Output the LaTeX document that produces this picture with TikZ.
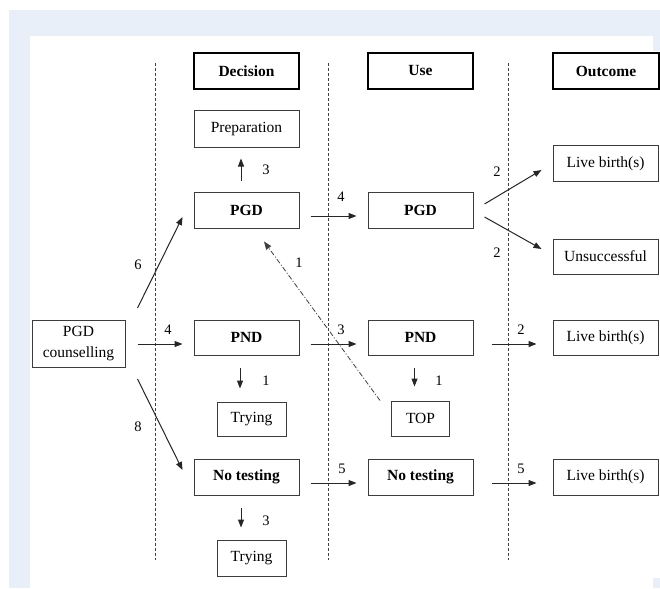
\documentclass[tikz,border=0pt]{standalone}
\usepackage{fontspec}
\setmainfont{Liberation Serif}
\usetikzlibrary{arrows.meta,calc}
\definecolor{bgblue}{RGB}{232,239,248}
\definecolor{boxgray}{RGB}{60,60,60}
\begin{document}
\begin{tikzpicture}[x=1pt,y=-1pt,
 box/.style={draw=boxgray,line width=1pt,fill=white,minimum width=105pt,minimum height=36pt,inner sep=0pt,font=\fontsize{15.5}{17}\selectfont},
 head/.style={box,draw=black,line width=1.8pt,font=\fontsize{15.5}{17}\selectfont\bfseries},
 bbox/.style={box,font=\fontsize{15.5}{17}\selectfont\bfseries},
 arr/.style={-{Triangle[length=8pt,width=6pt]},line width=1pt,black!85},
 lbl/.style={font=\fontsize{14.5}{16}\selectfont,inner sep=0pt},
 divider/.style={dash pattern=on 3pt off 2pt,line width=0.8pt,black!75},
 dashdot/.style={dash pattern=on 5pt off 2pt on 1pt off 2pt,line width=0.8pt,black!75}
]
\useasboundingbox (0,0) rectangle (660,588);
\fill[white] (0,0) rectangle (660,588);
\fill[bgblue] (9,10) rectangle (660,588);
\fill[white] (30,36) rectangle (653,588);
\fill[white] (653,51) rectangle (660,578);

% dividers
\coordinate (d1t) at (155,63); \coordinate (d1b) at (155,560);
\coordinate (d2t) at (328,63); \coordinate (d2b) at (328,560);
\coordinate (d3t) at (508,63); \coordinate (d3b) at (508,560);
\draw[divider] (d1t) -- (d1b);
\draw[divider] (d2t) -- (d2b);
\draw[divider] (d3t) -- (d3b);

% headers
\node[head] (hdec) at (246.5,71) {Decision};
\node[head] (huse) at (420.5,71) {Use};
\node[head, minimum width=106pt] (hout) at (606,71) {Outcome};

% decision column
\node[box, minimum height=37pt] (prep) at (246.5,129.5) {Preparation};
\node[bbox] (pgdD) at (246.5,210) {PGD};
\node[bbox, minimum height=35pt] (pndD) at (246.5,337.5) {PND};
\node[box, minimum width=69pt, minimum height=34pt] (try1) at (251.5,419) {Trying};
\node[bbox] (ntD) at (246.5,477) {No testing};
\node[box, minimum width=69pt] (try2) at (251.5,558) {Trying};

% counselling
\node[box, minimum width=93pt, minimum height=47pt, align=center, font=\fontsize{15.5}{21}\selectfont] (couns) at (78.5,343.5) {PGD\\counselling};

% use column
\node[bbox] (pgdU) at (420.5,210) {PGD};
\node[bbox, minimum height=35pt] (pndU) at (420.5,337.5) {PND};
\node[box, minimum width=58pt, minimum height=35pt] (top) at (420.5,418.5) {TOP};
\node[bbox] (ntU) at (420.5,477) {No testing};

% outcome column
\node[box, minimum height=35pt] (lb1) at (605.5,163.5) {Live birth(s)};
\node[box, minimum height=35pt] (uns) at (605.5,256.5) {Unsuccessful};
\node[box, minimum height=35pt] (lb2) at (605.5,337.5) {Live birth(s)};
\node[box] (lb3) at (605.5,477) {Live birth(s)};

% arrows from counselling
\draw[arr] ($(couns.east)+(12,-35.5)$) -- ($(pgdD.west)+(-11,7)$);
\draw[arr] ($(couns.east)+(12,0.5)$) -- ($(pndD.west)+(-11,6.5)$);
\draw[arr] ($(couns.east)+(12,35.5)$) -- ($(ntD.west)+(-11,-7)$);
\node[lbl] (l6) at (138,265) {6};
\node[lbl] (l4a) at (168,330) {4};
\node[lbl] (l8) at (138,427) {8};

% decision -> use
\draw[arr] ($(pgdD.east)+(11,6)$) -- ($(pgdU.west)+(-11,6)$);
\draw[arr] ($(pndD.east)+(11,6.5)$) -- ($(pndU.west)+(-11,6.5)$);
\draw[arr] ($(ntD.east)+(11,6)$) -- ($(ntU.west)+(-11,6)$);
\node[lbl] (l4b) at (341,197) {4};
\node[lbl] (l3b) at (341,330) {3};
\node[lbl] (l5a) at (342,469) {5};

% vertical arrows
\draw[arr] ($(pgdD.north)+(-5.5,-11)$) -- ($(prep.south)+(-5.5,10)$);
\draw[arr] ($(pndD.south)+(-6.5,12)$) -- ($(try1.north)+(-11.5,-13)$);
\draw[arr] ($(ntD.south)+(-5.5,12)$) -- ($(try2.north)+(-10.5,-12)$);
\draw[arr] ($(pndU.south)+(-6,12)$) -- ($(top.north)+(-6,-14)$);
\node[lbl] (l3a) at (266,170) {3};
\node[lbl] (l1a) at (266,381) {1};
\node[lbl] (l3c) at (266,521) {3};
\node[lbl] (l1b) at (439,381) {1};

% dash-dot TOP -> PGD
\draw[dashdot, -{Triangle[length=8pt,width=6pt]}] ($(top.north west)+(-11,0)$) -- ($(pgdD.south)+(17.5,13)$);
\node[lbl] (l1c) at (299,263) {1};

% use -> outcome
\draw[arr] ($(pgdU.east)+(11,-6)$) -- ($(lb1.west)+(-11,6.5)$);
\draw[arr] ($(pgdU.east)+(11,7)$) -- ($(uns.west)+(-11,-7.5)$);
\draw[arr] ($(pndU.east)+(18,6.5)$) -- ($(lb2.west)+(-16,6.5)$);
\draw[arr] ($(ntU.east)+(18,6)$) -- ($(lb3.west)+(-16,6)$);
\node[lbl] (l2a) at (497,172) {2};
\node[lbl] (l2b) at (497,253) {2};
\node[lbl] (l2c) at (521,330) {2};
\node[lbl] (l5b) at (521,469) {5};
\end{tikzpicture}
\end{document}
